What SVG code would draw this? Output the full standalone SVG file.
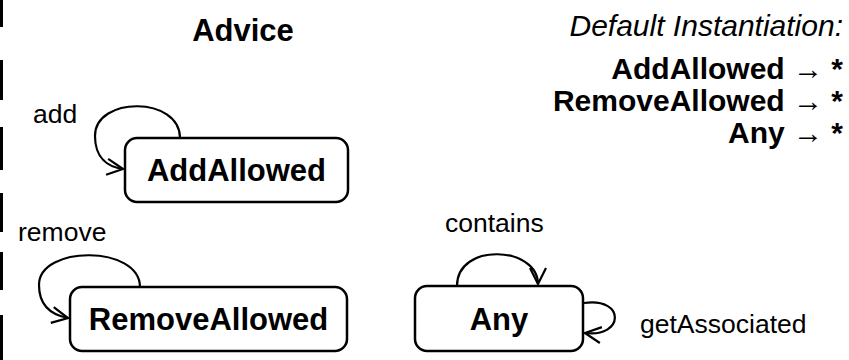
<svg xmlns="http://www.w3.org/2000/svg" width="849" height="360" viewBox="0 0 849 360">
<style>
.state{fill:#fff;stroke:#000;stroke-width:2.5}
.name{font-family:"Liberation Sans",Arial,sans-serif;font-weight:bold;font-size:31px;fill:#000;text-anchor:middle}
.lbl{font-family:"Liberation Sans",Arial,sans-serif;font-size:26.5px;fill:#000}
.rt{font-family:"Liberation Sans",Arial,sans-serif;font-size:30px;fill:#000;text-anchor:end}
.edge{fill:none;stroke:#000;stroke-width:2.2;marker-end:url(#open)}
.bar{stroke:#000;stroke-width:3}
</style>
<defs>
<marker id="open" viewBox="0 0 20 20" refX="18" refY="10" markerWidth="20" markerHeight="20" markerUnits="userSpaceOnUse" orient="auto">
<path d="M2,2 L18,10 L2,18" fill="none" stroke="#000" stroke-width="2.2"/>
</marker>
</defs>
<g id="border">
<line class="bar" x1="1.5" y1="0" x2="1.5" y2="27"/>
<line class="bar" x1="1.5" y1="60" x2="1.5" y2="100"/>
<line class="bar" x1="1.5" y1="127" x2="1.5" y2="170"/>
<line class="bar" x1="1.5" y1="193" x2="1.5" y2="232"/>
<line class="bar" x1="1.5" y1="252" x2="1.5" y2="290"/>
<line class="bar" x1="1.5" y1="315" x2="1.5" y2="360"/>
</g>
<text class="name" x="243" y="41">Advice</text>
<g id="legend">
<text class="rt" x="843" y="36" font-style="italic">Default Instantiation:</text>
<text class="rt" x="843" y="79" font-weight="bold">AddAllowed → *</text>
<text class="rt" x="843" y="111" font-weight="bold">RemoveAllowed → *</text>
<text class="rt" x="843" y="143" font-weight="bold">Any → *</text>
</g>
<g id="connectors">
<path class="edge" d="M180,138 C180,96 95,96 95,136 C95,158 108,167 123,169"/>
<text class="lbl" x="33" y="123">add</text>
<path class="edge" d="M140,287 C140,245 39,245 39,285 C39,306 52,315 68,318"/>
<text class="lbl" x="18" y="241">remove</text>
<path class="edge" d="M457,286 C457,242 538,246 538,284"/>
<text class="lbl" x="445" y="232">contains</text>
<path class="edge" d="M584,303 C626,297 624,338 585,333"/>
<text class="lbl" x="640" y="333">getAssociated</text>
</g>
<g id="AddAllowed">
<rect class="state" x="125" y="138" width="223" height="64" rx="12"/>
<text class="name" x="236.5" y="181">AddAllowed</text>
</g>
<g id="RemoveAllowed">
<rect class="state" x="70" y="287" width="277" height="64" rx="12"/>
<text class="name" x="208.5" y="330">RemoveAllowed</text>
</g>
<g id="Any">
<rect class="state" x="415" y="286" width="168" height="65" rx="12"/>
<text class="name" x="499" y="330">Any</text>
</g>
</svg>
